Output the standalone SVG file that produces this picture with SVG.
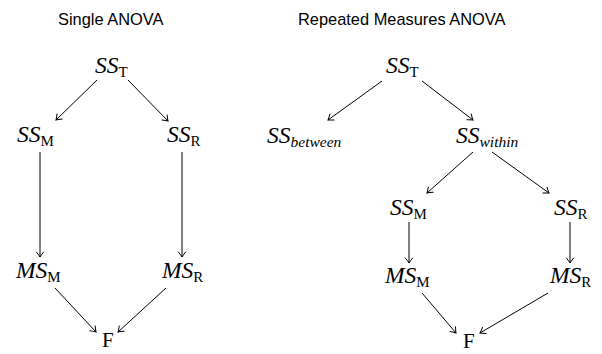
<svg xmlns="http://www.w3.org/2000/svg" width="602" height="354" viewBox="0 0 602 354">
<defs>
<marker id="arr" viewBox="-6 -5 8 10" markerWidth="8" markerHeight="10" refX="0" refY="0" orient="auto" markerUnits="userSpaceOnUse">
<path d="M-5,-3.6 Q-1.5,-0.8 0,0 Q-1.5,0.8 -5,3.6" fill="none" stroke="#000" stroke-width="1" stroke-linecap="round"/>
</marker>
</defs>
<style>
.title{font-family:"Liberation Sans",Arial,sans-serif;font-size:16.4px;fill:#000}
.m{font-family:"Liberation Serif","Times New Roman",serif;font-style:italic;font-size:23.5px;fill:#000}
.s{font-style:normal;font-size:15px}
.si{font-style:italic;font-size:15.5px}
.f{font-family:"Liberation Serif","Times New Roman",serif;font-size:21px;fill:#000}
.c line{stroke:#000;stroke-width:1;marker-end:url(#arr)}
</style>
<text class="title" x="58" y="25">Single ANOVA</text>
<text class="title" x="298" y="25">Repeated Measures ANOVA</text>
<g class="c" id="connectors">
<line x1="97" y1="80" x2="56" y2="120"/>
<line x1="128" y1="80" x2="168" y2="121"/>
<line x1="40" y1="152" x2="40" y2="257"/>
<line x1="182" y1="152" x2="182" y2="257"/>
<line x1="55" y1="288" x2="96" y2="332"/>
<line x1="166" y1="288" x2="118" y2="332"/>
<line x1="382" y1="81" x2="328" y2="120"/>
<line x1="422" y1="81" x2="473" y2="120"/>
<line x1="473" y1="152" x2="427" y2="193"/>
<line x1="492" y1="152" x2="549" y2="193"/>
<line x1="409" y1="222" x2="409" y2="263"/>
<line x1="570" y1="222" x2="570" y2="263"/>
<line x1="422" y1="293" x2="456" y2="333"/>
<line x1="548" y1="293" x2="480" y2="333"/>
</g>
<g id="L_SST"><text class="m" x="95" y="73">SS<tspan class="s" dy="4">T</tspan></text></g>
<g id="L_SSM"><text class="m" x="17" y="142">SS<tspan class="s" dy="4">M</tspan></text></g>
<g id="L_SSR"><text class="m" x="167" y="142">SS<tspan class="s" dy="4">R</tspan></text></g>
<g id="L_MSM"><text class="m" x="16" y="278">MS<tspan class="s" dy="4">M</tspan></text></g>
<g id="L_MSR"><text class="m" x="162" y="278">MS<tspan class="s" dy="4">R</tspan></text></g>
<g id="L_F"><text class="f" x="102" y="347">F</text></g>
<g id="R_SST"><text class="m" x="386" y="73">SS<tspan class="s" dy="4">T</tspan></text></g>
<g id="R_SSB"><text class="m" x="267" y="143">SS<tspan class="si" dy="4">between</tspan></text></g>
<g id="R_SSW"><text class="m" x="456" y="143">SS<tspan class="si" dy="4">within</tspan></text></g>
<g id="R_SSM"><text class="m" x="390" y="215">SS<tspan class="s" dy="4">M</tspan></text></g>
<g id="R_SSR"><text class="m" x="554" y="215">SS<tspan class="s" dy="4">R</tspan></text></g>
<g id="R_MSM"><text class="m" x="385" y="283">MS<tspan class="s" dy="4">M</tspan></text></g>
<g id="R_MSR"><text class="m" x="550" y="283">MS<tspan class="s" dy="4">R</tspan></text></g>
<g id="R_F"><text class="f" x="463" y="348">F</text></g>
</svg>
